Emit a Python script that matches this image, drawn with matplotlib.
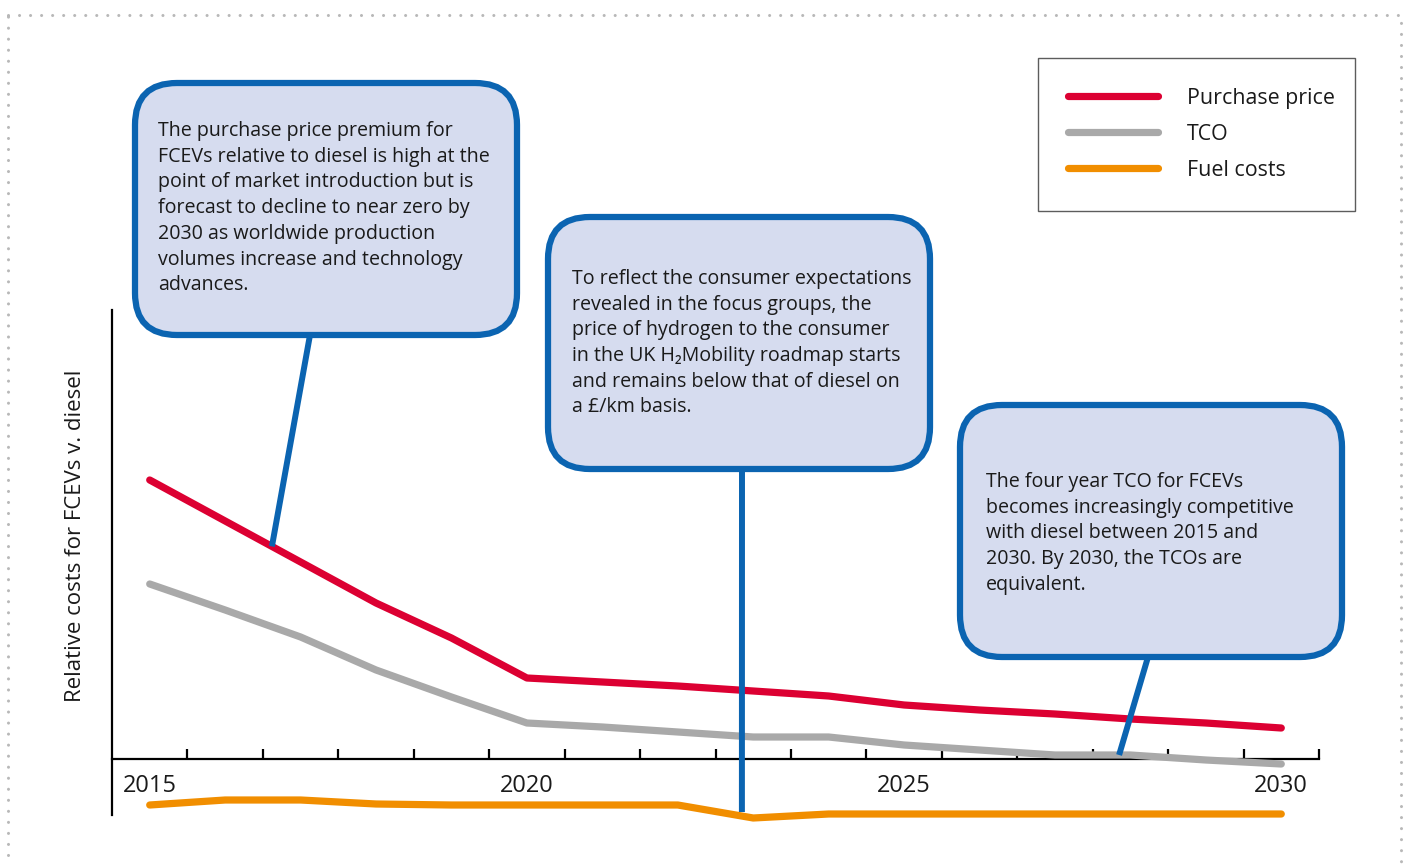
import numpy as np
import matplotlib
matplotlib.use("Agg")
import matplotlib.pyplot as plt
from matplotlib.patches import FancyBboxPatch, Rectangle, ConnectionPatch

plt.rcParams['font.family'] = ['Open Sans', 'DejaVu Sans']

# relative cost of FCEVs against diesel, arbitrary units (0 = parity)
years = np.arange(2015, 2031)
purchase_price = [27.9, 23.8, 19.7, 15.6, 12.1, 8.1, 7.7, 7.3, 6.8, 6.3, 5.4, 4.9, 4.5, 4.0, 3.6, 3.1]
tco = [17.5, 14.9, 12.2, 8.9, 6.2, 3.6, 3.2, 2.7, 2.2, 2.2, 1.4, 0.9, 0.4, 0.4, -0.1, -0.5]
fuel_costs = [-4.6, -4.1, -4.1, -4.5, -4.6, -4.6, -4.6, -4.6, -5.9, -5.5, -5.5, -5.5, -5.5, -5.5, -5.5, -5.5]
year_labels = [2015, 2020, 2025, 2030]

series_names = ['Purchase price', 'TCO', 'Fuel costs']
series_colors = ['#dc0032', '#a9a9a9', '#f18e00']

callout_texts = [
    "The purchase price premium for\nFCEVs relative to diesel is high at the\n"
    "point of market introduction but is\nforecast to decline to near zero by\n"
    "2030 as worldwide production\nvolumes increase and technology\nadvances.",
    "To reflect the consumer expectations\nrevealed in the focus groups, the\n"
    "price of hydrogen to the consumer\nin the UK H\u2082Mobility roadmap starts\n"
    "and remains below that of diesel on\na \u00a3/km basis.",
    "The four year TCO for FCEVs\nbecomes increasingly competitive\n"
    "with diesel between 2015 and\n2030. By 2030, the TCOs are\nequivalent.",
]

W, H = 1412, 865
fig = plt.figure(figsize=(W / 100, H / 100), dpi=100)
ax = fig.add_axes([112 / W, 1 - 815 / H, (1319 - 112) / W, (815 - 310) / H])

for vals, name, col in zip([purchase_price, tco, fuel_costs], series_names, series_colors):
    ax.plot(years, vals, color=col, lw=5.2, solid_capstyle='round',
            solid_joinstyle='round', label=name, clip_on=False, zorder=3)

ax.set_xlim(2014.5, 2030.5)
ax.set_ylim(-5.6, 44.9)
ax.spines['top'].set_visible(False)
ax.spines['right'].set_visible(False)
ax.spines['bottom'].set_position(('data', 0))
ax.spines['bottom'].set_linewidth(1.6)
ax.spines['left'].set_linewidth(1.6)
ax.spines['bottom'].set_zorder(2)
ax.set_yticks([])
ax.set_xticks(np.arange(2015.5, 2031, 1.0))
ax.set_xticklabels([])
ax.tick_params(axis='x', which='major', direction='in', length=7.5, width=1.6)
ax.set_xticks(year_labels, minor=True)
ax.set_xticklabels([str(y) for y in year_labels], minor=True)
ax.tick_params(axis='x', which='minor', length=0, pad=11, labelsize=17, labelcolor='#1a1a1a')

fig.text(76 / W, 1 - 536 / H, 'Relative costs for FCEVs v. diesel', rotation=90,
         ha='center', va='center', fontsize=16, color='#1a1a1a')

leg = ax.legend(loc='upper left', bbox_to_anchor=(1038 / W, 1 - 58 / H, 317 / W, 0),
                bbox_transform=fig.transFigure, mode='expand', fontsize=15.4,
                frameon=True, fancybox=False, edgecolor='#333333', handlelength=4.2,
                handletextpad=1.35, borderpad=1.4, labelspacing=0.7,
                borderaxespad=0)
leg.get_frame().set_linewidth(1.0)
for h in leg.get_lines():
    h.set_linewidth(5.2)
    h.set_solid_capstyle('round')
for t in leg.get_texts():
    t.set_color('#1a1a1a')

# overlay in pixel units for the callouts and the page border
ov = fig.add_axes([0, 0, 1, 1], zorder=5)
ov.set_xlim(0, W)
ov.set_ylim(H, 0)
ov.axis('off')
ov.patch.set_alpha(0)

ov.add_patch(Rectangle((8, 15), 1393, 900, fill=False, edgecolor='#b8b8b8',
                       lw=2.2, linestyle=(0, (0.01, 3.6)), capstyle='round'))

blue = '#0b64b1'
boxes = [(135, 83, 382, 252), (548, 217, 382, 252), (960, 405, 382, 252)]
text_pos = [(158, 121), (572, 269), (986, 472)]
# pointer start on box edge, target in data coords
ptr_start = [(310, 335), (742, 469), (1148, 657)]
ptr_target = [(2016.62, np.interp(2016.62, years, purchase_price)),
              (2022.85, -5.3),
              (2027.85, np.interp(2027.85, years, tco))]

for (bx, by, bw, bh), (tx, ty), ps, pt, txt in zip(boxes, text_pos, ptr_start, ptr_target, callout_texts):
    con = ConnectionPatch(xyA=ps, coordsA=ov.transData, xyB=pt, coordsB=ax.transData,
                          color=blue, lw=4.3, capstyle='butt', zorder=1)
    ov.add_artist(con)
    ov.add_patch(FancyBboxPatch((bx, by), bw, bh, boxstyle='round,pad=0,rounding_size=42',
                                facecolor='#d6dcef', edgecolor=blue, lw=4.5, zorder=2))
    ov.text(tx, ty, txt, ha='left', va='top', fontsize=14.1, color='#1a1a1a',
            linespacing=1.38, zorder=3)

fig.savefig('out.png', dpi=100)
